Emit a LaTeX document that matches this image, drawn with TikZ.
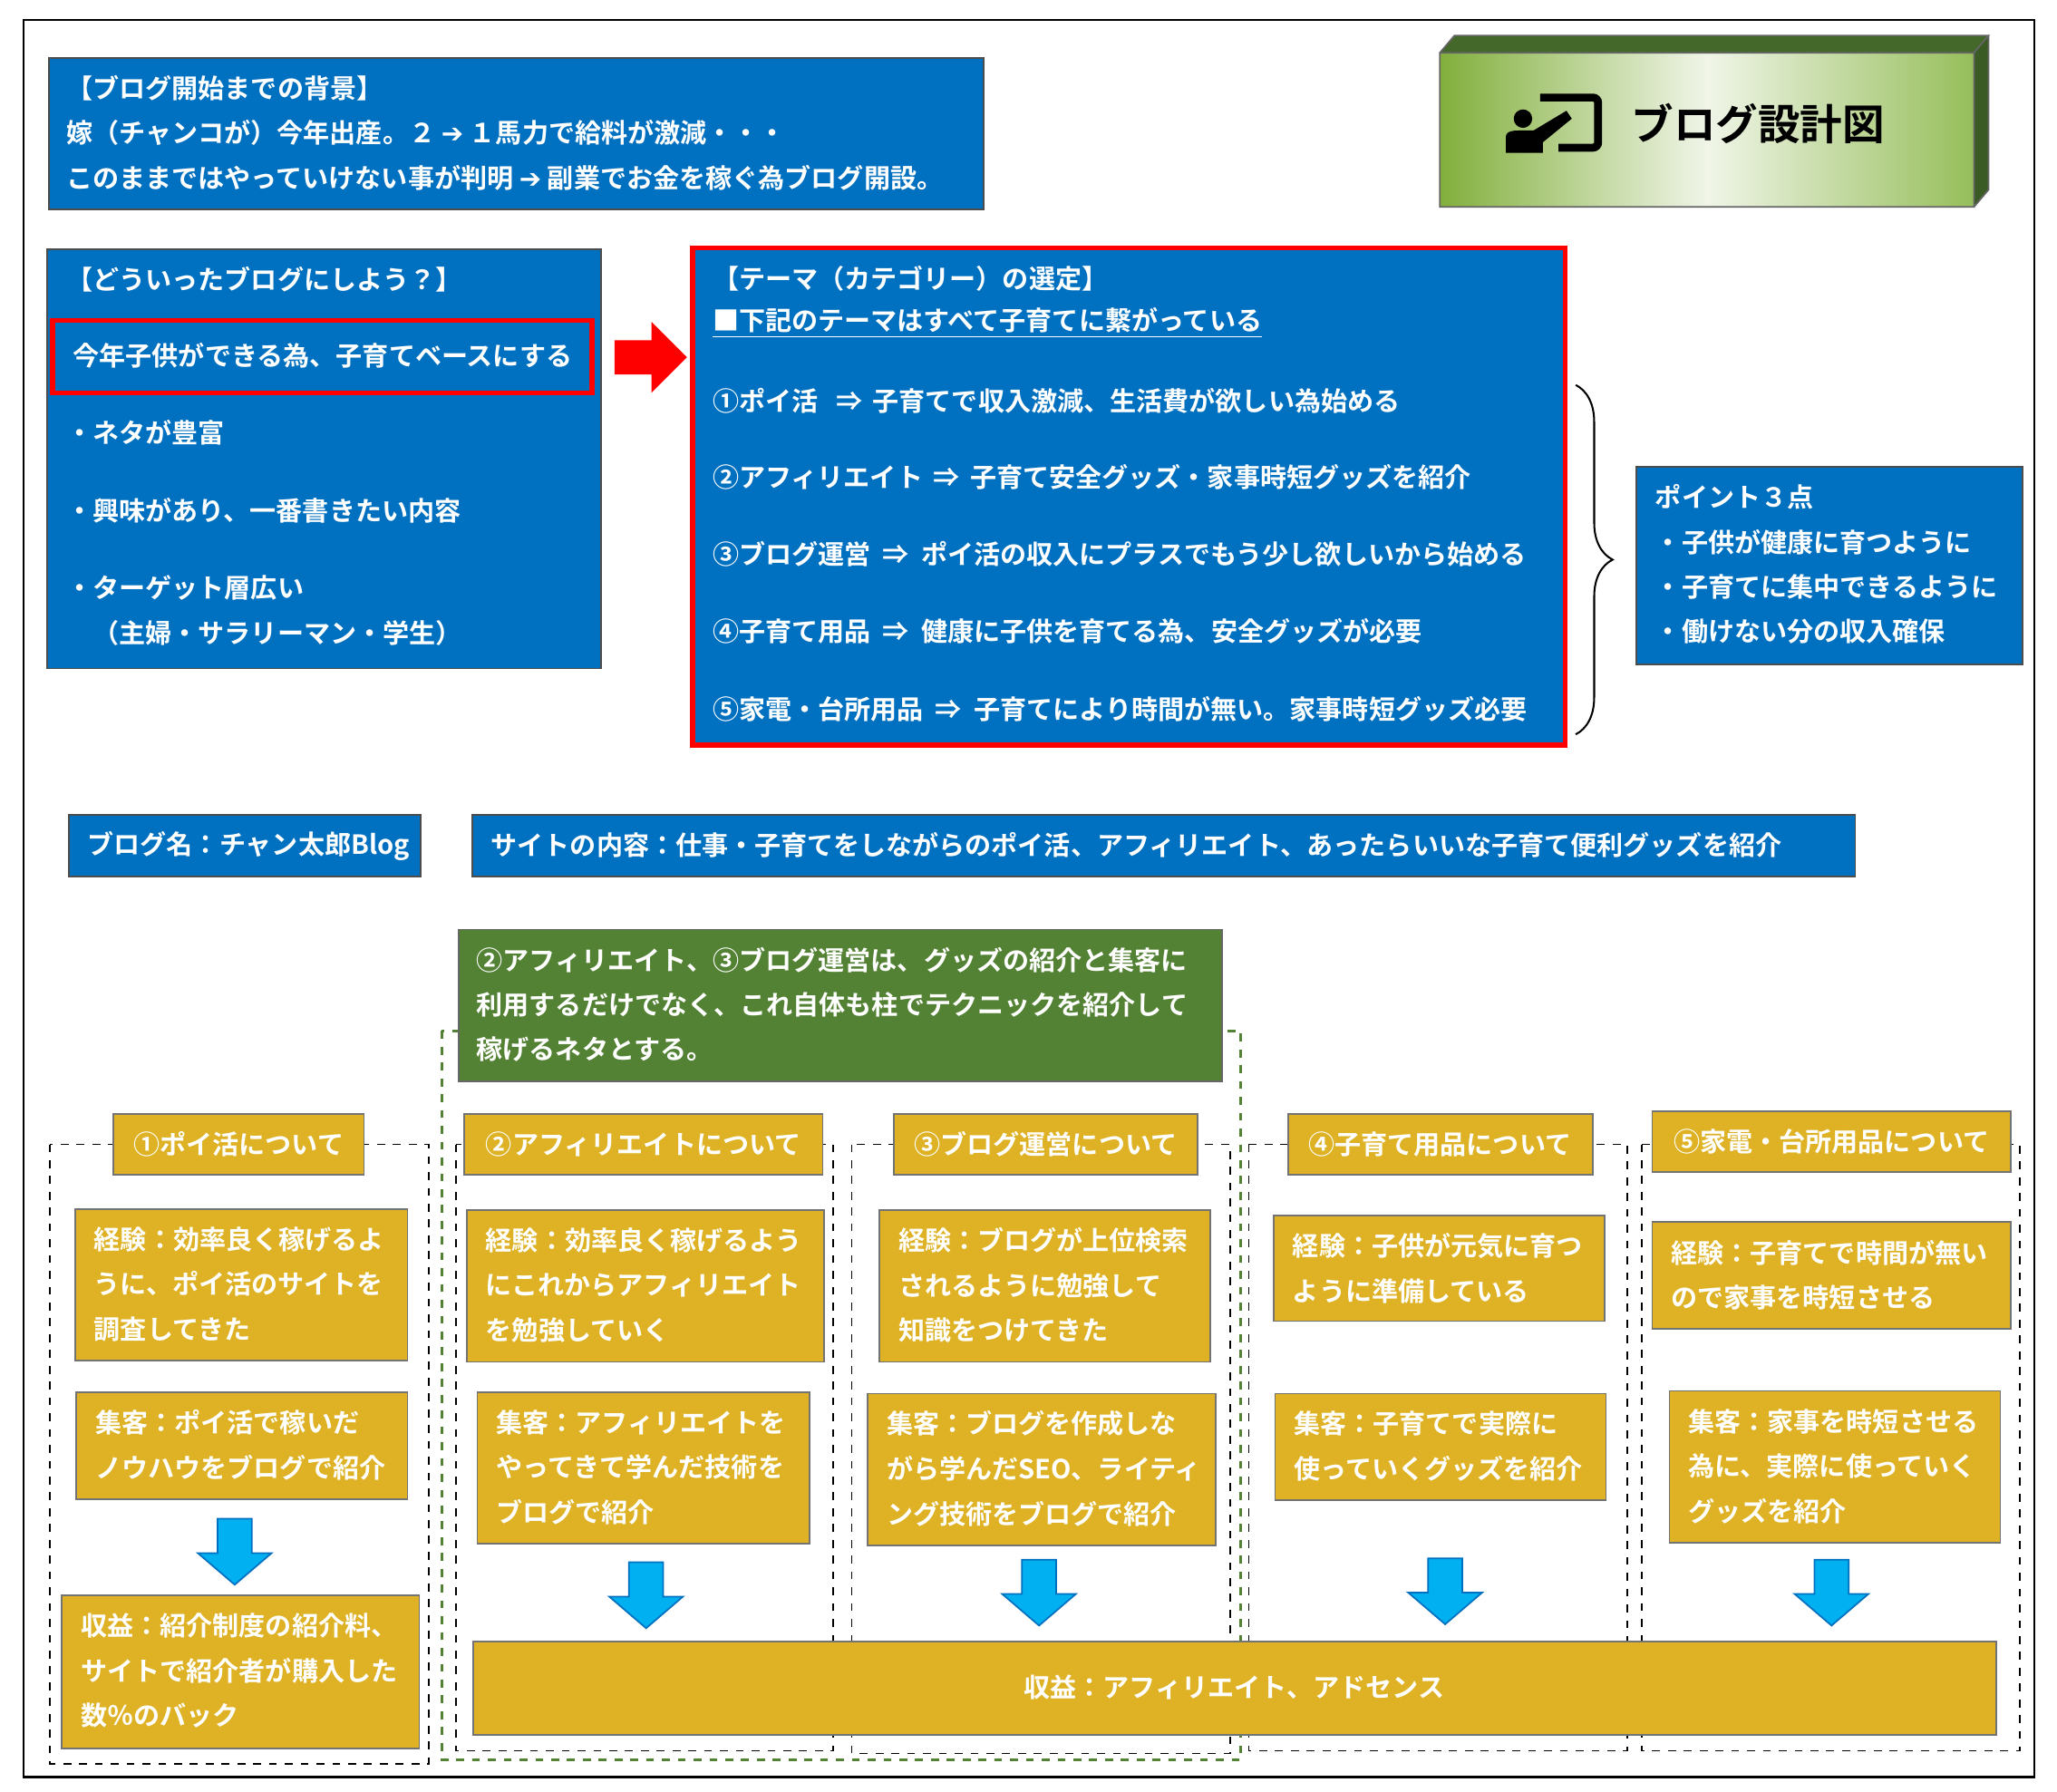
\documentclass[tikz,border=0pt]{standalone}
\usepackage{fontspec}
\setmainfont{Noto Sans CJK JP}[BoldFont={Noto Sans CJK JP Bold}]
\newfontfamily\symf{DejaVu Sans}
\usetikzlibrary{decorations.pathreplacing}
\definecolor{bl}{RGB}{0,112,192}
\definecolor{gd}{RGB}{222,178,36}
\definecolor{gn}{RGB}{84,130,53}
\definecolor{ab}{RGB}{0,176,240}
\tikzset{
 bbox/.style={fill=bl,draw=black!70,line width=0.6pt},
 gbox/.style={fill=gd,draw=black!55,line width=0.6pt},
 t/.style={text=white,font=\bfseries\fontsize{10}{12}\selectfont,anchor=west,inner sep=0pt},
 tc/.style={text=white,font=\bfseries\fontsize{10}{12}\selectfont,inner sep=0pt},
 col/.style={draw=black,dashed,line width=0.6pt},
 darr/.style={fill=ab,draw=bl,line width=0.6pt},
}
\newcommand{\dnarrow}[3]{% x, ytop, ybottom
 \draw[darr] (#1-13,#2) -- (#1+13,#2) -- (#1+13,#3-24) -- (#1+28,#3-24) -- (#1,#3) -- (#1-28,#3-24) -- (#1-13,#3-24) -- cycle;}
\newcommand{\ar}{{\symf\bfseries ➔}}
\begin{document}
\begin{tikzpicture}[x=0.5pt,y=-0.5pt]
\useasboundingbox (0,0) rectangle (1560,1359);
\fill[white] (0,0) rectangle (1560,1359);
\draw[line width=0.8pt] (18,15) rectangle (1543,1348);
% background box
\draw[bbox] (37,44) rectangle (746,159);
\node[t] (b1a) at (50,67) {【ブログ開始までの背景】};
\node[t] (b1b) at (50,101) {嫁（チャンコが）今年出産。２ \ar{} １馬力で給料が激減・・・};
\node[t] (b1c) at (50,135) {このままではやっていけない事が判明 \ar{} 副業でお金を稼ぐ為ブログ開設。};
% title
\fill[gn!80!black] (1092,40) -- (1103,27) -- (1508,27) -- (1497,40) -- cycle;
\fill[gn!70!black] (1497,40) -- (1508,27) -- (1508,144) -- (1497,157) -- cycle;
\shade[left color={rgb,255:red,130;green,175;blue,60},right color={rgb,255:red,150;green,190;blue,90},middle color={rgb,255:red,240;green,245;blue,232}] (1092,40) rectangle (1497,157);
\draw[black!60,line width=0.6pt] (1092,40) rectangle (1497,157) (1092,40) -- (1103,27) -- (1508,27) -- (1497,40) (1508,27) -- (1508,144) -- (1497,157);
\draw[line width=3pt,rounded corners=2pt] (1168,74) -- (1212,74) -- (1212,112) -- (1182,112);
\fill (1155,90) circle (7);
\fill (1142,116) -- (1142,104) to[out=90,in=180] (1155,99) -- (1163,99) -- (1188,84) -- (1192,90) -- (1170,108) -- (1170,116) -- cycle;
\node[font=\bfseries\fontsize{16}{18}\selectfont,anchor=west,inner sep=0pt] (title) at (1237,94) {ブログ設計図};
% box 2
\draw[bbox] (36,189) rectangle (456,507);
\node[t] (b2a) at (50,212) {【どういったブログにしよう？】};
\draw[red,line width=2pt] (40,243) rectangle (449,298);
\node[t] (b2b) at (55,270) {今年子供ができる為、子育てベースにする};
\node[t] (b2c) at (50,328) {・ネタが豊富};
\node[t] (b2d) at (50,387) {・興味があり、一番書きたい内容};
\node[t] (b2e) at (50,446) {・ターゲット層広い};
\node[t] (b2f) at (70,480) {（主婦・サラリーマン・学生）};
% red arrow
\fill[red] (466,258) -- (494,258) -- (494,244) -- (521,271) -- (494,298) -- (494,284) -- (466,284) -- cycle;
% box 3
\draw[bbox,draw=red,line width=2pt] (525,188) rectangle (1187,565);
\node[t] (b3a) at (540,211) {【テーマ（カテゴリー）の選定】};
\node[t] (b3b) at (540,245) {\underline{■下記のテーマはすべて子育てに繋がっている}};
\node[t] (b3c) at (540,304) {①ポイ活 \ \ ⇒ \,子育てで収入激減、生活費が欲しい為始める};
\node[t] (b3d) at (540,362) {②アフィリエイト \,⇒ \,子育て安全グッズ・家事時短グッズを紹介};
\node[t] (b3e) at (540,420) {③ブログ運営 \ ⇒ \ ポイ活の収入にプラスでもう少し欲しいから始める};
\node[t] (b3f) at (540,479) {④子育て用品 \ ⇒ \ 健康に子供を育てる為、安全グッズが必要};
\node[t] (b3g) at (540,538) {⑤家電・台所用品 \ ⇒ \ 子育てにより時間が無い。家事時短グッズ必要};
\draw[line width=0.7pt,decorate,decoration={brace,amplitude=14pt}] (1195,292) -- (1195,557);
% box 4
\draw[bbox] (1241,354) rectangle (1534,504);
\node[t] (b4a) at (1255,377) {ポイント３点};
\node[t] (b4b) at (1255,411) {・子供が健康に育つように};
\node[t] (b4c) at (1255,445) {・子育てに集中できるように};
\node[t] (b4d) at (1255,479) {・働けない分の収入確保};
% name / site
\draw[bbox] (52,618) rectangle (319,665);
\node[t] (nm) at (66,642) {ブログ名：チャン太郎Blog};
\draw[bbox] (358,618) rectangle (1407,665);
\node[t] (site) at (372,641) {サイトの内容：仕事・子育てをしながらのポイ活、アフィリエイト、あったらいいな子育て便利グッズを紹介};
% green dashed + box
\draw[gn,dashed,line width=1.2pt] (335,782) rectangle (941,1335);
\draw[fill=gn,draw=black!60,line width=0.6pt] (348,705) rectangle (927,820);
\node[t] (g1) at (361,728) {②アフィリエイト、③ブログ運営は、グッズの紹介と集客に};
\node[t] (g2) at (361,762) {利用するだけでなく、これ自体も柱でテクニックを紹介して};
\node[t] (g3) at (361,796) {稼げるネタとする。};
% columns
\draw[col] (38,868) rectangle (325,1338);
\draw[col] (346,868) rectangle (632,1328);
\draw[col] (646,868) rectangle (933,1330);
\draw[col] (947,868) rectangle (1234,1328);
\draw[col] (1245,868) rectangle (1532,1328);
% headers
\draw[gbox] (86,845) rectangle (276,891); \node[tc] (h1) at (181,868) {①ポイ活について};
\draw[gbox] (352,845) rectangle (624,891); \node[tc] (h2) at (488,868) {②アフィリエイトについて};
\draw[gbox] (678,845) rectangle (908,891); \node[tc] (h3) at (793,868) {③ブログ運営について};
\draw[gbox] (977,845) rectangle (1208,891); \node[tc] (h4) at (1092,868) {④子育て用品について};
\draw[gbox] (1253,843) rectangle (1525,889); \node[tc] (h5) at (1389,866) {⑤家電・台所用品について};
% column 1
\draw[gbox] (57,917) rectangle (309,1032);
\node[t] (c1a) at (71,940) {経験：効率良く稼げるよ};
\node[t] (c1b) at (71,974) {うに、ポイ活のサイトを};
\node[t] (c1c) at (71,1008) {調査してきた};
\draw[gbox] (58,1056) rectangle (309,1137);
\node[t] (c1d) at (72,1079) {集客：ポイ活で稼いだ};
\node[t] (c1e) at (72,1113) {ノウハウをブログで紹介};
\dnarrow{178}{1152}{1202}
\draw[gbox] (47,1210) rectangle (318,1326);
\node[t] (c1f) at (61,1233) {収益：紹介制度の紹介料、};
\node[t] (c1g) at (61,1267) {サイトで紹介者が購入した};
\node[t] (c1h) at (61,1301) {数％のバック};
% column 2
\draw[gbox] (354,918) rectangle (625,1033);
\node[t] (c2a) at (368,941) {経験：効率良く稼げるよう};
\node[t] (c2b) at (368,975) {にこれからアフィリエイト};
\node[t] (c2c) at (368,1009) {を勉強していく};
\draw[gbox] (362,1056) rectangle (614,1171);
\node[t] (c2d) at (376,1079) {集客：アフィリエイトを};
\node[t] (c2e) at (376,1113) {やってきて学んだ技術を};
\node[t] (c2f) at (376,1147) {ブログで紹介};
\dnarrow{490}{1185}{1235}
% column 3
\draw[gbox] (667,918) rectangle (918,1033);
\node[t] (c3a) at (681,941) {経験：ブログが上位検索};
\node[t] (c3b) at (681,975) {されるように勉強して};
\node[t] (c3c) at (681,1009) {知識をつけてきた};
\draw[gbox] (658,1057) rectangle (922,1172);
\node[t] (c3d) at (672,1080) {集客：ブログを作成しな};
\node[t] (c3e) at (672,1114) {がら学んだSEO、ライティ};
\node[t] (c3f) at (672,1148) {ング技術をブログで紹介};
\dnarrow{788}{1183}{1233}
% column 4
\draw[gbox] (966,922) rectangle (1217,1002);
\node[t] (c4a) at (980,945) {経験：子供が元気に育つ};
\node[t] (c4b) at (980,979) {ように準備している};
\draw[gbox] (967,1057) rectangle (1218,1138);
\node[t] (c4c) at (981,1080) {集客：子育てで実際に};
\node[t] (c4d) at (981,1114) {使っていくグッズを紹介};
\dnarrow{1096}{1182}{1232}
% column 5
\draw[gbox] (1253,927) rectangle (1525,1008);
\node[t] (c5a) at (1267,950) {経験：子育てで時間が無い};
\node[t] (c5b) at (1267,984) {ので家事を時短させる};
\draw[gbox] (1266,1055) rectangle (1517,1170);
\node[t] (c5c) at (1280,1078) {集客：家事を時短させる};
\node[t] (c5d) at (1280,1112) {為に、実際に使っていく};
\node[t] (c5e) at (1280,1146) {グッズを紹介};
\dnarrow{1389}{1183}{1233}
% revenue
\draw[gbox] (359,1245) rectangle (1514,1316);
\node[tc] (rev) at (936,1280) {収益：アフィリエイト、アドセンス};
\end{tikzpicture}
\end{document}
